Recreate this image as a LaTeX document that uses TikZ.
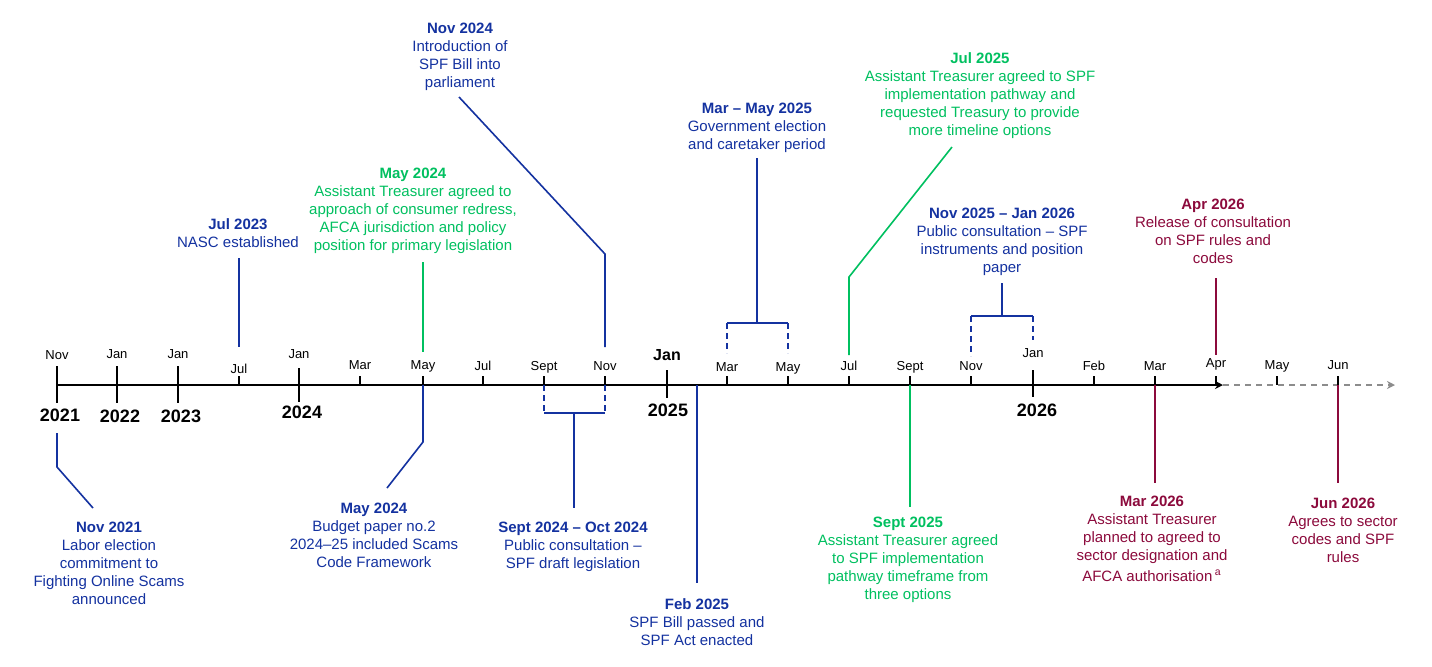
\documentclass[tikz,border=0pt]{standalone}
\usepackage{fontspec}
\setmainfont{Liberation Sans}
\usetikzlibrary{arrows.meta}
\definecolor{cblue}{HTML}{1432A0}
\definecolor{cgreen}{HTML}{00C060}
\definecolor{cmaroon}{HTML}{8C0A3C}
\definecolor{cgray}{HTML}{8C8C8C}
\begin{document}
\begin{tikzpicture}[x=0.5pt,y=-0.5pt,
  evt/.style={align=center, inner sep=0pt, anchor=north, font=\fontsize{7.5}{9}\selectfont},
  mlab/.style={inner sep=0pt, anchor=center, text height=4.6pt, text depth=0pt, font=\fontsize{6.5}{8}\selectfont},
  ylab/.style={inner sep=0pt, anchor=center, text height=6.4pt, text depth=0pt, font=\bfseries\fontsize{9}{11}\selectfont},
  conn/.style={line width=0.8pt},
  dconn/.style={line width=0.8pt, dash pattern=on 3pt off 2pt},
  smalltick/.style={line width=0.8pt},
  bigtick/.style={line width=1pt},
  axisline/.style={line width=1pt, -{Stealth[length=4pt,width=4pt]}},
  futline/.style={line width=0.8pt, cgray, dash pattern=on 3pt off 2.5pt, -{Stealth[length=4pt,width=4pt]}}
]
\useasboundingbox (0,0) rectangle (1432,666);
\fill[white] (0,0) rectangle (1432,666);

% axis coordinates
\coordinate (a0) at (57,385);
\coordinate (aend) at (1223,385);
\coordinate (fend) at (1395,385);
\draw[axisline] (a0) -- (aend);
\draw[futline] (aend) -- (fend);

% big ticks
\foreach \x/\t/\b in {57/366/403, 117/366/403, 178/366/403, 299/368/402, 667/370/398, 1033/370/397}
  \draw[bigtick] (\x,\t) -- (\x,\b);
% small ticks
\foreach \x in {239,360,423,483,544,605,727,788,849,910,971,1094,1155,1216,1277,1338}
  \draw[smalltick] (\x,376) -- (\x,385);

% month labels
\node[mlab] (mNov21) at (57,355) {Nov};
\node[mlab] (mJan22) at (117,354) {Jan};
\node[mlab] (mJan23) at (178,354) {Jan};
\node[mlab] (mJul23) at (239,369) {Jul};
\node[mlab] (mJan24) at (299,354) {Jan};
\node[mlab] (mMar24) at (360,365) {Mar};
\node[mlab] (mMay24) at (423,365) {May};
\node[mlab] (mJul24) at (483,366) {Jul};
\node[mlab] (mSep24) at (544,366) {Sept};
\node[mlab] (mNov24) at (605,366) {Nov};
\node[ylab, font=\bfseries\fontsize{8}{10}\selectfont, text height=5.7pt] (mJan25) at (667,355) {Jan};
\node[mlab] (mMar25) at (727,367) {Mar};
\node[mlab] (mMay25) at (788,367) {May};
\node[mlab] (mJul25) at (849,366) {Jul};
\node[mlab] (mSep25) at (910,366) {Sept};
\node[mlab] (mNov25) at (971,366) {Nov};
\node[mlab] (mJan26) at (1033,353) {Jan};
\node[mlab] (mFeb26) at (1094,366) {Feb};
\node[mlab] (mMar26) at (1155,366) {Mar};
\node[mlab] (mApr26) at (1216,363) {Apr};
\node[mlab] (mMay26) at (1277,365) {May};
\node[mlab] (mJun26) at (1338,365) {Jun};

% year labels
\node[ylab] (y21) at (60,415) {2021};
\node[ylab] (y22) at (120,416) {2022};
\node[ylab] (y23) at (181,416) {2023};
\node[ylab] (y24) at (302,412) {2024};
\node[ylab] (y25) at (668,410) {2025};
\node[ylab] (y26) at (1037,410) {2026};

% ---------- events below ----------
\node[evt, text=cblue] (e1) at (109,522) {\textbf{Nov 2021}\\Labor election\\commitment to\\Fighting Online Scams\\announced};
\coordinate (e1a) at (57,433); \coordinate (e1b) at (57,467); \coordinate (e1c) at (93,508);
\draw[conn, cblue] (e1a) -- (e1b) -- (e1c);

\node[evt, text=cblue] (e2) at (374,503) {\textbf{May 2024}\\Budget paper no.2\\2024–25 included Scams\\Code Framework};
\coordinate (e2a) at (423,385); \coordinate (e2b) at (423,442); \coordinate (e2c) at (387,488);
\draw[conn, cblue] (e2a) -- (e2b) -- (e2c);

\node[evt, text=cblue] (e3) at (573,522) {\textbf{Sept 2024 – Oct 2024}\\Public consultation –\\SPF draft legislation};
\coordinate (e3l) at (544,385); \coordinate (e3r) at (605,385);
\coordinate (e3bl) at (544,413); \coordinate (e3br) at (605,413);
\coordinate (e3s) at (574,413); \coordinate (e3e) at (574,508);
\draw[dconn, cblue] (e3l) -- (e3bl);
\draw[dconn, cblue] (e3r) -- (e3br);
\draw[conn, cblue] (e3bl) -- (e3br);
\draw[conn, cblue] (e3s) -- (e3e);

\node[evt, text=cblue] (e4) at (697,598) {\textbf{Feb 2025}\\SPF Bill passed and\\SPF Act enacted};
\coordinate (e4a) at (697,385); \coordinate (e4b) at (697,583);
\draw[conn, cblue] (e4a) -- (e4b);

\node[evt, text=cgreen] (e5) at (908,517) {\textbf{Sept 2025}\\Assistant Treasurer agreed\\to SPF implementation\\pathway timeframe from\\three options};
\coordinate (e5a) at (910,385); \coordinate (e5b) at (910,507);
\draw[conn, cgreen] (e5a) -- (e5b);

\node[evt, text=cmaroon] (e6) at (1152,496) {\textbf{Mar 2026}\\Assistant Treasurer\\planned to agreed to\\sector designation and\\[1.5pt]AFCA authorisation\,\textsuperscript{a}};
\coordinate (e6a) at (1155,385); \coordinate (e6b) at (1155,483);
\draw[conn, cmaroon] (e6a) -- (e6b);

\node[evt, text=cmaroon] (e7) at (1343,498) {\textbf{Jun 2026}\\Agrees to sector\\codes and SPF\\rules};
\coordinate (e7a) at (1338,385); \coordinate (e7b) at (1338,483);
\draw[conn, cmaroon] (e7a) -- (e7b);

% ---------- events above ----------
\node[evt, text=cblue] (e8) at (238,218) {\textbf{Jul 2023}\\NASC established};
\coordinate (e8a) at (239,258); \coordinate (e8b) at (239,347);
\draw[conn, cblue] (e8a) -- (e8b);

\node[evt, text=cgreen] (e9) at (413,168) {\textbf{May 2024}\\Assistant Treasurer agreed to\\approach of consumer redress,\\AFCA jurisdiction and policy\\position for primary legislation};
\coordinate (e9a) at (423,262); \coordinate (e9b) at (423,352);
\draw[conn, cgreen] (e9a) -- (e9b);

\node[evt, text=cblue] (e10) at (460,23) {\textbf{Nov 2024}\\Introduction of\\SPF Bill into\\parliament};
\coordinate (e10a) at (459,97); \coordinate (e10b) at (605,254); \coordinate (e10c) at (605,347);
\draw[conn, cblue] (e10a) -- (e10b) -- (e10c);

\node[evt, text=cblue] (e11) at (757,103) {\textbf{Mar – May 2025}\\Government election\\and caretaker period};
\coordinate (e11a) at (757,158); \coordinate (e11b) at (757,323);
\coordinate (e11l) at (727,323); \coordinate (e11r) at (788,323);
\coordinate (e11ld) at (727,353); \coordinate (e11rd) at (788,353);
\draw[conn, cblue] (e11a) -- (e11b);
\draw[conn, cblue] (e11l) -- (e11r);
\draw[dconn, cblue] (e11l) -- (e11ld);
\draw[dconn, cblue] (e11r) -- (e11rd);

\node[evt, text=cgreen] (e12) at (980,52) {\textbf{Jul 2025}\\Assistant Treasurer agreed to SPF\\implementation pathway and\\requested Treasury to provide\\more timeline options};
\coordinate (e12a) at (952,147); \coordinate (e12b) at (849,277); \coordinate (e12c) at (849,355);
\draw[conn, cgreen] (e12a) -- (e12b) -- (e12c);

\node[evt, text=cblue] (e13) at (1002,208) {\textbf{Nov 2025 – Jan 2026}\\Public consultation – SPF\\instruments and position\\paper};
\coordinate (e13a) at (1002,283); \coordinate (e13b) at (1002,316);
\coordinate (e13l) at (971,316); \coordinate (e13r) at (1033,316);
\coordinate (e13ld) at (971,356); \coordinate (e13rd) at (1033,340);
\draw[conn, cblue] (e13a) -- (e13b);
\draw[conn, cblue] (e13l) -- (e13r);
\draw[dconn, cblue] (e13l) -- (e13ld);
\draw[dconn, cblue] (e13r) -- (e13rd);

\node[evt, text=cmaroon] (e14) at (1213,199) {\textbf{Apr 2026}\\Release of consultation\\on SPF rules and\\codes};
\coordinate (e14a) at (1216,278); \coordinate (e14b) at (1216,355);
\draw[conn, cmaroon] (e14a) -- (e14b);
\end{tikzpicture}
\end{document}
